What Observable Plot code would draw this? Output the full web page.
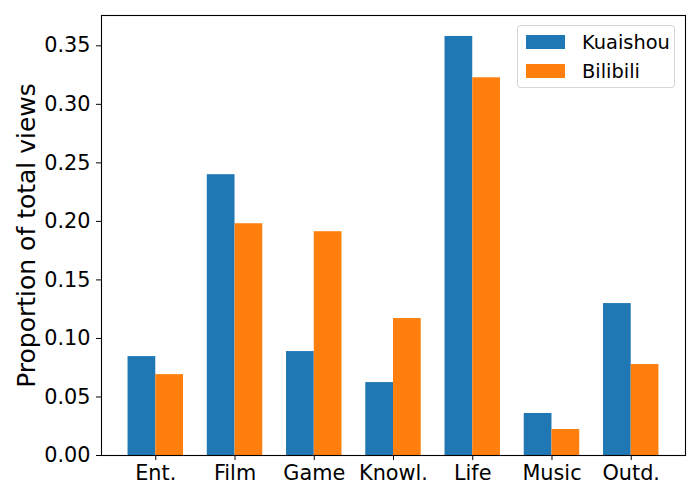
<!DOCTYPE html>
<html>
<head>
<meta charset="utf-8">
<script src="https://cdn.jsdelivr.net/npm/d3@7"></script>
<script src="https://cdn.jsdelivr.net/npm/@observablehq/plot@0.6"></script>
<style>
  html, body { margin: 0; padding: 0; background: #fff; }
  #wrap { position: relative; width: 700px; height: 500px; font-family: "DejaVu Sans", sans-serif; }
  #legend { position: absolute; left: 517px; top: 25px; width: 156px; height: 61px;
    border: 1px solid rgba(204,204,204,0.8); border-radius: 4px; background: rgba(255,255,255,0.8); }
  .item { position: absolute; left: 8px; height: 20px; display: flex; align-items: center; }
  .sw { width: 39px; height: 14px; margin-right: 17px; }
  .lab { font-size: 19.4px; color: #000; }
</style>
</head>
<body>
<div id="wrap"></div>
<script>
const categories = ["Ent.", "Film", "Game", "Knowl.", "Life", "Music", "Outd."];
const kuaishou = [0.0845, 0.2399, 0.0888, 0.0623, 0.3580, 0.0359, 0.1298];
const bilibili = [0.0691, 0.1980, 0.1912, 0.1170, 0.3227, 0.0222, 0.0777];
const seriesNames = ["Kuaishou", "Bilibili"];
const seriesColors = ["#1f77b4", "#ff7f0e"];
const yTicks = [0, 0.05, 0.10, 0.15, 0.20, 0.25, 0.30, 0.35];
const yLabel = "Proportion of total views";

const barWidth = 0.35;
const rows = [];
categories.forEach((c, i) => {
  rows.push({i, series: seriesNames[0], value: kuaishou[i], x1: i - barWidth, x2: i});
  rows.push({i, series: seriesNames[1], value: bilibili[i], x1: i, x2: i + barWidth});
});
const n = categories.length;
const xPad = (n - 1 + 2 * barWidth) * 0.05;
const yMax = Math.max(...kuaishou, ...bilibili) * 1.05;

const chart = Plot.plot({
  width: 700,
  height: 500,
  marginLeft: 101,
  marginRight: 15,
  marginTop: 15,
  marginBottom: 45,
  style: {fontFamily: "DejaVu Sans, sans-serif", fontSize: "20.8px", background: "#fff", color: "#000"},
  x: {type: "linear", domain: [-barWidth - xPad, n - 1 + barWidth + xPad]},
  y: {domain: [0, yMax]},
  color: {domain: seriesNames, range: seriesColors},
  marks: [
    Plot.rectY(rows, {x1: "x1", x2: "x2", y1: 0, y2: "value", fill: "series"}),
    Plot.axisX({ticks: d3.range(n), tickFormat: i => categories[i], tickSize: 5, tickPadding: 5, fontSize: 20.8, label: null, stroke: "#000"}),
    Plot.axisY({ticks: yTicks, tickFormat: d3.format(".2f"), tickSize: 5, tickPadding: 6, fontSize: 20.8, label: null, stroke: "#000"}),
    Plot.text([yLabel], {text: d => d, frameAnchor: "left", textAnchor: "middle", lineAnchor: "middle", dx: -75, rotate: -90, fontSize: 25, fill: "#000"}),
    Plot.frame({stroke: "#000", strokeWidth: 1.1})
  ]
});
const wrap = document.getElementById("wrap");
wrap.appendChild(chart);

const legend = document.createElement("div");
legend.id = "legend";
seriesNames.forEach((s, k) => {
  const item = document.createElement("div");
  item.className = "item";
  item.style.top = (k === 0 ? 6 : 35) + "px";
  item.innerHTML = `<div class="sw" style="background:${seriesColors[k]}"></div><span class="lab">${s}</span>`;
  legend.appendChild(item);
});
wrap.appendChild(legend);
</script>
</body>
</html>
